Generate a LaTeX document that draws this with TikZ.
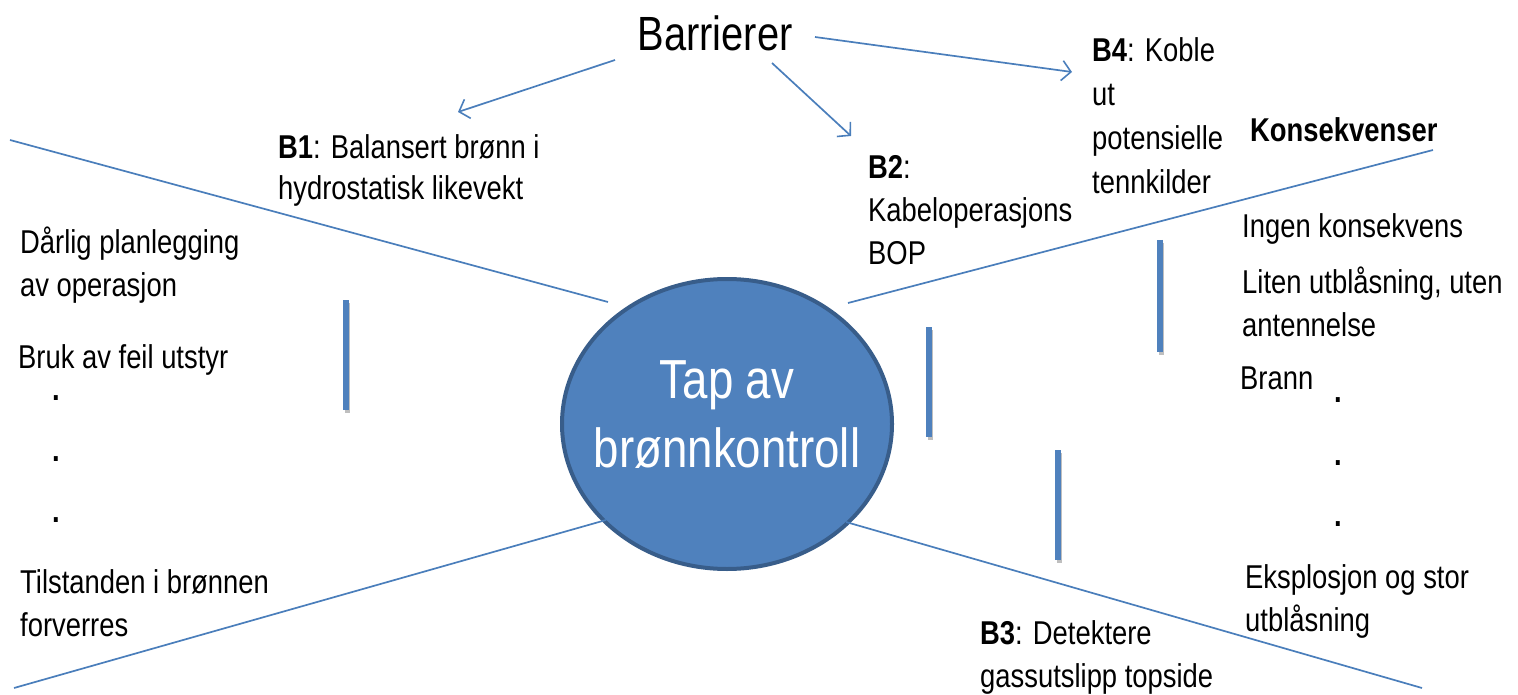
\documentclass[tikz,border=0pt]{standalone}
\usepackage{fontspec}
\setmainfont{Liberation Sans}[FakeStretch=0.83]
\usetikzlibrary{arrows.meta,shapes.geometric}
\definecolor{lineblue}{HTML}{4A7EBB}
\definecolor{fillblue}{HTML}{4F81BD}
\definecolor{edgeblue}{HTML}{385D8A}
\begin{document}
\begin{tikzpicture}[x=1pt,y=-1pt,
  txt/.style={anchor=north west,inner sep=0pt,align=left,font=\fontsize{33}{43}\selectfont},
  dotmark/.style={anchor=base,inner sep=0pt,font=\bfseries\fontsize{33}{43}\selectfont},
  conn/.style={draw=lineblue,line width=1.7pt},
  arr/.style={conn,-{Straight Barb[length=9pt,width=20pt,line width=1.6pt]}},
  bar/.style={draw=fillblue,line width=5.5pt},
  barshadow/.style={draw=black!25,line width=5pt}]
\useasboundingbox (0,0) rectangle (1518,695);

% central ellipse
\node[ellipse,draw=edgeblue,line width=4pt,fill=fillblue,minimum width=330pt,minimum height=290pt,inner sep=0pt] (circ) at (727,424) {};
\node[text=white,align=center,inner sep=0pt,font=\fontsize{55}{69}\selectfont] (circtext) at (727,415) {Tap av\\brønnkontroll};

% spokes
\coordinate (ulA) at (10,140);   \coordinate (ulB) at (608,302);
\coordinate (urA) at (848,303);  \coordinate (urB) at (1433,150);
\coordinate (llA) at (14,688);   \coordinate (llB) at (606,520);
\coordinate (lrA) at (846,522);  \coordinate (lrB) at (1422,688);
\draw[conn] (ulA) -- (ulB);
\draw[conn] (urA) -- (urB);
\draw[conn] (llA) -- (llB);
\draw[conn] (lrA) -- (lrB);

% barrier bars
\coordinate (b1t) at (346,300); \coordinate (b1b) at (346,410);
\coordinate (b2t) at (929,327); \coordinate (b2b) at (929,437);
\coordinate (b3t) at (1160,240); \coordinate (b3b) at (1160,352);
\coordinate (b4t) at (1058,450); \coordinate (b4b) at (1058,560);
\foreach \t/\b in {b1t/b1b,b2t/b2b,b3t/b3b,b4t/b4b}{
  \draw[barshadow] ([shift={(1,3)}]\t) -- ([shift={(1,3)}]\b);
  \draw[bar] (\t) -- (\b);
}

% title and arrows
\node[inner sep=0pt,font=\fontsize{48}{52}\selectfont] (barr) at (715,33) {Barrierer};
\coordinate (a1s) at (615,60);  \coordinate (a1e) at (458,112);
\coordinate (a2s) at (772,63);  \coordinate (a2e) at (851,136);
\coordinate (a3s) at (815,37);  \coordinate (a3e) at (1072,72);
\draw[arr] (a1s) -- (a1e);
\draw[arr] (a2s) -- (a2e);
\draw[arr] (a3s) -- (a3e);

% barrier labels
\node[txt,font=\fontsize{33}{41}\selectfont] (tb1) at (278,134) {\textbf{B1}: Balansert brønn i\\hydrostatisk likevekt};
\node[txt] (tb2) at (868,155) {\textbf{B2}:\\Kabeloperasjons\\BOP};
\node[txt,font=\fontsize{33}{44}\selectfont] (tb4) at (1092,37) {\textbf{B4}: Koble\\ut\\potensielle\\tennkilder};
\node[txt] (tb3) at (980,620) {\textbf{B3}: Detektere\\gassutslipp topside};

% causes
\node[txt] (c1) at (20,227) {Dårlig planlegging\\av operasjon};
\node[txt] (c2) at (18,344) {Bruk av feil utstyr};
\node[dotmark] (cd1) at (56,400) {.};
\node[dotmark] (cd2) at (56,461) {.};
\node[dotmark] (cd3) at (56,522) {.};
\node[txt] (c3) at (20,569) {Tilstanden i brønnen\\forverres};

% consequences
\node[txt,font=\bfseries\fontsize{33}{43}\selectfont] (kons) at (1250,117) {Konsekvenser};
\node[txt] (k1) at (1242,213) {Ingen konsekvens};
\node[txt] (k2) at (1242,267) {Liten utblåsning, uten\\antennelse};
\node[txt] (k3) at (1240,367) {Brann};
\node[dotmark] (kd1) at (1338,402) {.};
\node[dotmark] (kd2) at (1338,465) {.};
\node[dotmark] (kd3) at (1338,526) {.};
\node[txt] (k4) at (1245,564) {Eksplosjon og stor\\utblåsning};
\end{tikzpicture}
\end{document}
